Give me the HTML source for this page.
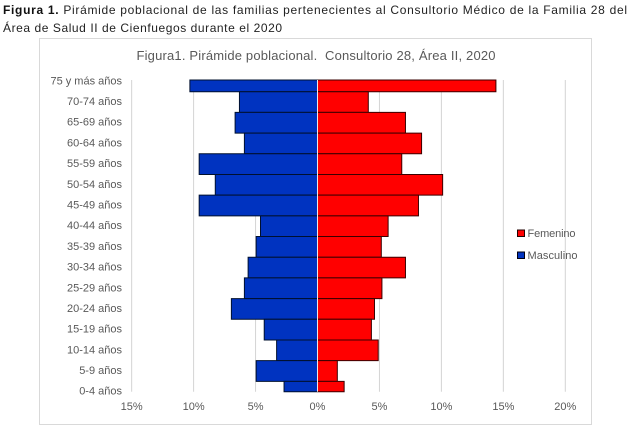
<!DOCTYPE html>
<html lang="es">
<head>
<meta charset="utf-8">
<title>Pirámide poblacional</title>
<style>
html,body{margin:0;padding:0;background:#fff;width:631px;height:428px;overflow:hidden}
svg{display:block;font-family:"Liberation Sans",sans-serif}
</style>
</head>
<body>
<svg id="chart" width="631" height="428" viewBox="0 0 631 428" xmlns="http://www.w3.org/2000/svg">
  <rect x="0" y="0" width="631" height="428" fill="#fff"/>
  <text x="3" y="14" font-size="12" fill="#222" textLength="624" lengthAdjust="spacing"><tspan font-weight="bold" fill="#111">Figura 1.</tspan> Pirámide poblacional de las familias pertenecientes al Consultorio Médico de la Familia 28 del</text>
  <text x="3" y="32" font-size="12" fill="#222" textLength="279" lengthAdjust="spacing">Área de Salud II de Cienfuegos durante  el 2020</text>
  <rect x="39.5" y="38.5" width="552" height="386" fill="#fff" stroke="#d9d9d9" stroke-width="1"/>
  <text x="316" y="60" text-anchor="middle" font-size="13" fill="#595959" textLength="359" lengthAdjust="spacing" xml:space="preserve">Figura1. Pirámide poblacional.  Consultorio 28, Área II, 2020</text>
  <g id="grid"></g>
  <g id="bars"></g>
  <g id="ylabels"></g>
  <g id="xlabels"></g>
  <g>
    <g>
      <rect x="517.5" y="230" width="7" height="6.5" fill="#ff0000" stroke="#200" stroke-width="1"/>
      <text x="527.5" y="237" font-size="11" fill="#595959" textLength="48" lengthAdjust="spacing">Femenino</text>
    </g>
    <g>
      <rect x="517.5" y="252" width="7" height="6.5" fill="#0033c0" stroke="#001" stroke-width="1"/>
      <text x="527.5" y="259" font-size="11" fill="#595959" textLength="50" lengthAdjust="spacing">Masculino</text>
    </g>
  </g>
</svg>
<script>
const categories = ["75 y más años","70-74 años","65-69 años","60-64 años","55-59 años","50-54 años","45-49 años","40-44 años","35-39 años","30-34 años","25-29 años","20-24 años","15-19 años","10-14 años","5-9 años","0-4 años"];
const femenino = [14.4,4.1,7.1,8.4,6.8,10.1,8.15,5.7,5.15,7.1,5.2,4.6,4.35,4.9,1.6,2.15];
const masculino = [10.3,6.3,6.65,5.9,9.55,8.25,9.55,4.6,4.95,5.6,5.9,6.95,4.3,3.3,4.95,2.7];
const xTicks = [-15,-10,-5,0,5,10,15,20];

const NS = 'http://www.w3.org/2000/svg';
const plotTop = 80, plotBottom = 391.7, firstCenter = 81.35, band = 20.69;
function xScale(v){ return 317.5 + v * 12.39; }
function yCenter(i){ return firstCenter + i * band; }
function make(parent, tag, attrs){
  const el = document.createElementNS(NS, tag);
  for (const k in attrs) el.setAttribute(k, attrs[k]);
  parent.appendChild(el);
  return el;
}
function drawBar(parent, i, value, fill, stroke, name){
  const top = Math.max(plotTop, yCenter(i) - band / 2);
  const bottom = Math.min(plotBottom, yCenter(i) + band / 2);
  const x0 = xScale(0), x1 = xScale(value);
  const left = Math.min(x0, x1), right = Math.max(x0, x1);
  const g = make(parent, 'g', {});
  
  
  const fillRect = make(g, 'rect', {x:left, y:top, width:right-left, height:bottom-top, fill:fill});
  
  
  const d = 'M' + x0 + ' ' + top + 'H' + x1 + 'V' + bottom + 'H' + x0;
  const outline = make(g, 'path', {d:d, fill:'none', stroke:stroke, 'stroke-width':1});
  
  
}
const gridG = document.getElementById('grid');
const xLabelG = document.getElementById('xlabels');
xTicks.forEach(function(t){
  const x = xScale(t);
  const line = make(gridG, 'line', {x1:x, x2:x, y1:plotTop, y2:plotBottom, stroke:'#d4d4d4', 'stroke-width':1});
  
  
  const label = make(xLabelG, 'text', {x:x, y:410, 'text-anchor':'middle', 'font-size':11, fill:'#595959'});
  
  
  label.textContent = Math.abs(t) + '%';
});
const barsG = document.getElementById('bars');
const yLabelG = document.getElementById('ylabels');
categories.forEach(function(c, i){
  drawBar(barsG, i, -masculino[i], '#0033c0', '#00102e', 'bar-masculino');
  drawBar(barsG, i, femenino[i], '#ff0000', '#3a0000', 'bar-femenino');
  const label = make(yLabelG, 'text', {x:122, y:yCenter(i) + 3, 'text-anchor':'end', 'font-size':11, fill:'#595959'});
  
  
  label.textContent = c;
});
const axisLine = make(barsG, 'line', {x1:xScale(0), x2:xScale(0), y1:plotTop, y2:plotBottom, stroke:'#e8e8e8', 'stroke-width':1});


</script>
</body>
</html>
